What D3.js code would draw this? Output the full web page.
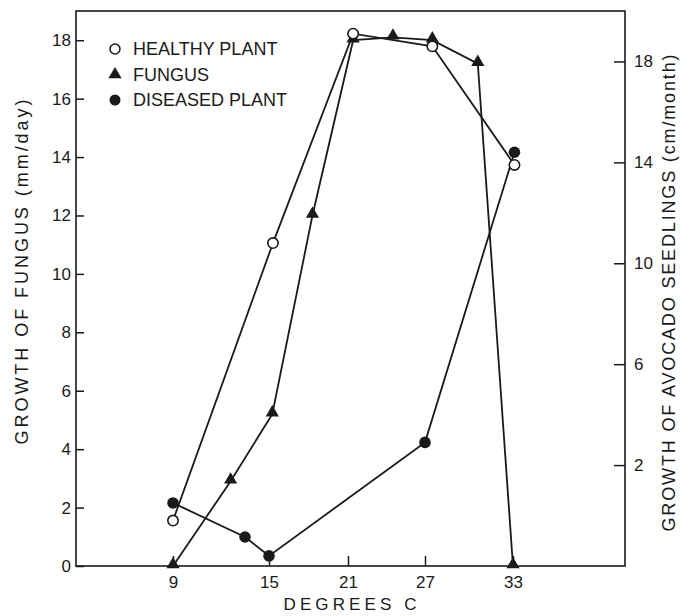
<!DOCTYPE html>
<html>
<head>
<meta charset="utf-8">
<script src="https://cdn.jsdelivr.net/npm/d3@7"></script>
<style>
  body { margin: 0; background: #fff; }
  text { font-family: "Liberation Sans", Arial, sans-serif; fill: #1a1a1a; }
</style>
</head>
<body>
<div id="chart"></div>
<script>
// tick values
const xTicks = [9, 15, 21, 27, 33];
const leftTicks = [0, 2, 4, 6, 8, 10, 12, 14, 16, 18];
const rightTicks = [2, 6, 10, 14, 18];

// fungus growth (mm/day), left axis
const fungusX = [9, 12.6, 15.25, 18.3, 21.4, 24.5, 27.5, 30.6, 33];
const fungusY = [0, 2.9, 5.2, 12.0, 18.0, 18.1, 18.0, 17.2, 0];

// avocado seedlings (cm/month), right axis
const healthyX = [9, 15.3, 21.4, 27.5, 33.1];
const healthyY = [-0.2, 10.8, 19.1, 18.6, 13.9];
const diseasedX = [9, 13.5, 15, 27, 33.1];
const diseasedY = [0.5, -0.85, -1.6, 2.9, 14.4];

const legendLabels = ["HEALTHY PLANT", "FUNGUS", "DISEASED PLANT"];

const margin = { top: 11, right: 72, bottom: 50, left: 76 },
  width = 697 - margin.left - margin.right,
  height = 616 - margin.top - margin.bottom;

const svg = d3
  .select("#chart")
  .append("svg")
  .attr("width", 697)
  .attr("height", 616)
  .append("g")
  .attr("transform", `translate(${margin.left},${margin.top})`);

// the original axis is hand drawn, the ticks are not evenly spaced
const xTickPos = [97, 193, 272, 349, 437];
const x = d3.scaleLinear().domain(xTicks).range(xTickPos);
const yL = d3.scaleLinear().domain([0, 19]).range([height, 0]);
const yR = d3.scaleLinear().domain([-2, 20]).range([height, 0]);

// frame
svg
  .append("rect")
  .attr("width", width)
  .attr("height", height)
  .style("fill", "none")
  .style("stroke", "#1a1a1a")
  .style("stroke-width", 1.6);

// axes (ticks point inward)
const xAxis = svg
  .append("g")
  .attr("transform", `translate(0,${height})`)
  .call(d3.axisBottom(x).tickValues(xTicks).tickSize(-10).tickPadding(10));
const yAxisL = svg
  .append("g")
  .call(d3.axisLeft(yL).tickValues(leftTicks).tickSize(-8).tickPadding(5));
const yAxisR = svg
  .append("g")
  .attr("transform", `translate(${width},0)`)
  .call(d3.axisRight(yR).tickValues(rightTicks).tickSize(-11).tickPadding(9));

[xAxis, yAxisL, yAxisR].forEach(function (a) {
  a.select(".domain").remove();
  a.selectAll(".tick line").style("stroke", "#1a1a1a").style("stroke-width", 1.5);
  a.selectAll(".tick text")
    .style("font-size", "17px")
    .style("font-family", "Liberation Sans, Arial, sans-serif")
    .style("fill", "#1a1a1a");
});

// axis titles
svg
  .append("text")
  .attr("text-anchor", "middle")
  .attr("x", 350 - margin.left)
  .attr("y", 610 - margin.top)
  .attr("textLength", 133)
  .attr("lengthAdjust", "spacing")
  .style("font-size", "17px")
  .text("DEGREES C");

svg
  .append("text")
  .attr("text-anchor", "middle")
  .attr("transform", `translate(${28 - margin.left},${272 - margin.top}) rotate(-90)`)
  .attr("textLength", 345)
  .attr("lengthAdjust", "spacing")
  .style("font-size", "18px")
  .text("GROWTH OF FUNGUS (mm/day)");

svg
  .append("text")
  .attr("text-anchor", "middle")
  .attr("transform", `translate(${675 - margin.left},${293 - margin.top}) rotate(-90)`)
  .attr("textLength", 477)
  .attr("lengthAdjust", "spacing")
  .style("font-size", "18px")
  .text("GROWTH OF AVOCADO SEEDLINGS (cm/month)");

// series
const fungus = fungusX.map((d, i) => [d, fungusY[i]]);
const healthy = healthyX.map((d, i) => [d, healthyY[i]]);
const diseased = diseasedX.map((d, i) => [d, diseasedY[i]]);

const lineL = d3.line().x((d) => x(d[0])).y((d) => yL(d[1]));
const lineR = d3.line().x((d) => x(d[0])).y((d) => yR(d[1]));

function drawLine(data, line) {
  svg
    .append("path")
    .datum(data)
    .attr("d", line)
    .style("fill", "none")
    .style("stroke", "#1a1a1a")
    .style("stroke-width", 1.8);
}
drawLine(fungus, lineL);
drawLine(diseased, lineR);
drawLine(healthy, lineR);

const triangle = d3.symbol().type(d3.symbolTriangle).size(75);

svg
  .selectAll("path.fungus")
  .data(fungus)
  .enter()
  .append("path")
  .attr("class", "fungus")
  .attr("d", triangle)
  .attr("transform", (d) => `translate(${x(d[0])},${yL(d[1]) - 1.5})`)
  .style("fill", "#1a1a1a");

svg
  .selectAll("circle.diseased")
  .data(diseased)
  .enter()
  .append("circle")
  .attr("class", "diseased")
  .attr("cx", (d) => x(d[0]))
  .attr("cy", (d) => yR(d[1]))
  .attr("r", 5.8)
  .style("fill", "#1a1a1a");

svg
  .selectAll("circle.healthy")
  .data(healthy)
  .enter()
  .append("circle")
  .attr("class", "healthy")
  .attr("cx", (d) => x(d[0]))
  .attr("cy", (d) => yR(d[1]))
  .attr("r", 5.2)
  .style("fill", "#fff")
  .style("stroke", "#1a1a1a")
  .style("stroke-width", 1.6);

// Handmade legend
const legend = svg.append("g").attr("transform", `translate(${115 - margin.left},${49 - margin.top})`);
legendLabels.forEach(function (label, i) {
  const gy = i * 25.5;
  if (i === 0) {
    legend.append("circle").attr("cy", gy).attr("r", 5)
      .style("fill", "#fff").style("stroke", "#1a1a1a").style("stroke-width", 1.5);
  } else if (i === 1) {
    legend.append("path").attr("d", triangle).attr("transform", `translate(0,${gy})`)
      .style("fill", "#1a1a1a");
  } else {
    legend.append("circle").attr("cy", gy).attr("r", 5.5).style("fill", "#1a1a1a");
  }
  legend
    .append("text")
    .attr("x", 18)
    .attr("y", gy)
    .attr("dy", "0.36em")
    .style("font-size", "18px")
    .text(label);
});
</script>
</body>
</html>
